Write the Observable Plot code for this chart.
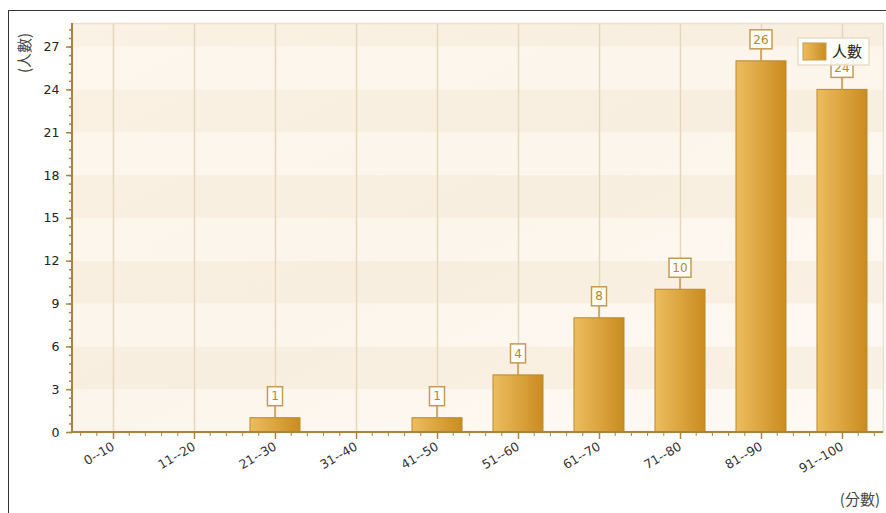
<!DOCTYPE html>
<html>
<head>
<meta charset="utf-8">
<script src="https://cdn.jsdelivr.net/npm/d3@7"></script>
<script src="https://cdn.jsdelivr.net/npm/@observablehq/plot@0.6"></script>
<style>
  html, body { margin: 0; padding: 0; background: #fff; }
  #wrap { position: relative; width: 886px; height: 513px; overflow: hidden; }
  #border { position: absolute; left: 8px; top: 10px; width: 877px; height: 510px;
            border-left: 1px solid #333; border-top: 1px solid #333; pointer-events: none; }
</style>
</head>
<body>
<div id="wrap"><div id="border"></div></div>
<script>
const categories = ["0--10", "11--20", "21--30", "31--40", "41--50", "51--60", "61--70", "71--80", "81--90", "91--100"];
const counts = [0, 0, 1, 0, 1, 4, 8, 10, 26, 24];
const yTicks = [0, 3, 6, 9, 12, 15, 18, 21, 24, 27];
const yMax = 28.65;
const seriesName = "人數";
const yTitle = "(人數)";
const xTitle = "(分數)";

const data = categories.map((c, i) => ({cat: c, v: counts[i]}));
const barsData = data.filter(d => d.v > 0);
const stripes = d3.range(0, yMax, 3).map((s, i) => ({y1: s, y2: Math.min(s + 3, yMax), odd: i % 2 === 1}));
const minorY = d3.range(0, yMax, 0.6);

const gold = "#a9843f";
const font = "'DejaVu Sans', Verdana, sans-serif";

function bandInfo(x) {
  const bw = typeof x.bandwidth === "function" ? x.bandwidth() : (x(categories[1]) - x(categories[0])) * 0.62;
  const step = x(categories[1]) - x(categories[0]);
  return {bw, step};
}

const defsMark = () => {
  const defs = d3.create("svg:defs");
  const g = defs.append("linearGradient").attr("id", "barGrad").attr("x1", "0").attr("x2", "1").attr("y1", "0").attr("y2", "0");
  g.append("stop").attr("offset", "0%").attr("stop-color", "#edbd5f");
  g.append("stop").attr("offset", "100%").attr("stop-color", "#c98c1f");
  const bg = defs.append("linearGradient").attr("id", "bgGrad").attr("x1", "0").attr("x2", "1").attr("y1", "0").attr("y2", "1");
  bg.append("stop").attr("offset", "0%").attr("stop-color", "#fdf5e9").attr("stop-opacity", 0.5);
  bg.append("stop").attr("offset", "50%").attr("stop-color", "#fbeedd").attr("stop-opacity", 0.35);
  bg.append("stop").attr("offset", "100%").attr("stop-color", "#fffaf3").attr("stop-opacity", 0.2);
  return defs.node();
};

const axisLineMark = (index, scales, values, dim) => {
  const g = d3.create("svg:g");
  const x0 = dim.marginLeft, y0 = dim.height - dim.marginBottom;
  g.append("line").attr("x1", x0).attr("x2", x0).attr("y1", dim.marginTop).attr("y2", y0 + 1)
    .attr("stroke", gold).attr("stroke-width", 2);
  g.append("line").attr("x1", x0).attr("x2", dim.width - dim.marginRight).attr("y1", y0).attr("y2", y0)
    .attr("stroke", gold).attr("stroke-width", 2);
  const {bw, step} = bandInfo(scales.x);
  const xr = dim.width - dim.marginRight;
  categories.forEach(c => {
    const cx = scales.x(c) + bw / 2;
    for (let k = -4; k <= 4; k++) {
      if (k === 0) continue;
      const px = cx + k * step / 5;
      if (px <= x0 + 1 || px >= xr) continue;
      if (k < 0 && c !== categories[0]) continue;
      g.append("line").attr("x1", px).attr("x2", px).attr("y1", y0).attr("y2", y0 + 4)
        .attr("stroke", gold).attr("stroke-width", 1);
    }
  });
  return g.node();
};

const labelMark = (index, scales, values, dim) => {
  const g = d3.create("svg:g").attr("font-family", font).attr("font-size", 12);
  const {bw} = bandInfo(scales.x);
  barsData.forEach(d => {
    const cx = scales.x(d.cat) + bw / 2;
    const ty = scales.y(d.v);
    const txt = String(d.v);
    const w = 8 + 7 * txt.length, h = 19;
    const by = ty - 12;
    g.append("line").attr("x1", cx).attr("x2", cx).attr("y1", ty).attr("y2", by)
      .attr("stroke", "#c69a4c").attr("stroke-width", 1.5);
    g.append("rect").attr("x", cx - w / 2).attr("y", by - h).attr("width", w).attr("height", h)
      .attr("fill", "#fff").attr("stroke", "#c69a4c").attr("stroke-width", 1.5);
    g.append("text").attr("x", cx).attr("y", by - h / 2).attr("dy", "0.35em").attr("text-anchor", "middle")
      .attr("fill", "#b9852a").text(txt);
  });
  return g.node();
};

const legendMark = (index, scales, values, dim) => {
  const g = d3.create("svg:g").attr("font-family", "'Noto Sans CJK TC', 'DejaVu Sans', sans-serif");
  const right = dim.width - dim.marginRight - 14;
  const top = dim.marginTop + 15;
  const w = 71, h = 27;
  const lx = right - w;
  g.append("rect").attr("x", lx).attr("y", top).attr("width", w).attr("height", h)
    .attr("fill", "#fff").attr("fill-opacity", 0.85).attr("stroke", "#e8dcc4").attr("stroke-width", 1.5);
  g.append("rect").attr("x", lx + 5).attr("y", top + 5).attr("width", 23).attr("height", 17)
    .attr("fill", "url(#barGrad)").attr("stroke", "#c69a4c").attr("stroke-width", 1);
  g.append("text").attr("x", lx + 34).attr("y", top + h / 2).attr("dy", "0.35em")
    .attr("text-anchor", "start").attr("font-size", 15).attr("fill", "#222").text(seriesName);
  return g.node();
};

const titlesMark = (index, scales, values, dim) => {
  const g = d3.create("svg:g").attr("font-family", "'Noto Sans CJK TC', 'DejaVu Sans', sans-serif").attr("font-size", 15).attr("fill", "#444");
  g.append("text").attr("transform", `translate(25, ${dim.marginTop + 30}) rotate(-90)`)
    .attr("text-anchor", "middle").attr("dy", "0.35em").text(yTitle);
  g.append("text").attr("x", dim.width - 6).attr("y", dim.height - 13)
    .attr("text-anchor", "end").attr("dy", "0.35em").text(xTitle);
  return g.node();
};

const chart = Plot.plot({
  width: 886,
  height: 513,
  marginLeft: 72,
  marginRight: 3,
  marginTop: 23,
  marginBottom: 81,
  style: {fontFamily: font, fontSize: "12px", background: "transparent", color: "#222"},
  x: {domain: categories, paddingInner: 0.38, paddingOuter: 0.19, label: null},
  y: {domain: [0, yMax], label: null},
  marks: [
    defsMark,
    Plot.rect(stripes, {y1: "y1", y2: "y2", fill: d => d.odd ? "#f7eee0" : "#fdf9f3"}),
    Plot.rect([0], {y1: 0, y2: yMax, fill: "url(#bgGrad)"}),
    Plot.gridX({stroke: "#e5d7bb", strokeOpacity: 1, strokeWidth: 1.5}),
    Plot.frame({stroke: "#eadfc8", strokeWidth: 1.5}),
    Plot.barY(barsData, {x: "cat", y: "v", fill: "url(#barGrad)", stroke: "#b9892f", strokeWidth: 1}),
    axisLineMark,
    Plot.axisY({ticks: minorY, tickSize: 3, tickFormat: () => "", stroke: gold, strokeWidth: 1.5, label: null}),
    Plot.axisY({ticks: yTicks, tickSize: 6, tickPadding: 7, stroke: gold, strokeWidth: 1.5, fill: "#222", fontSize: 12.5, label: null}),
    Plot.axisX({tickSize: 7, tickPadding: 6, tickRotate: -30, stroke: gold, strokeWidth: 1.5, fill: "#333", fontSize: 12.5, label: null}),
    labelMark,
    legendMark,
    titlesMark
  ]
});
document.getElementById("wrap").insertBefore(chart, document.getElementById("border"));
chart.style.position = "absolute";
chart.style.left = "0px";
chart.style.top = "0px";
</script>
</body>
</html>
